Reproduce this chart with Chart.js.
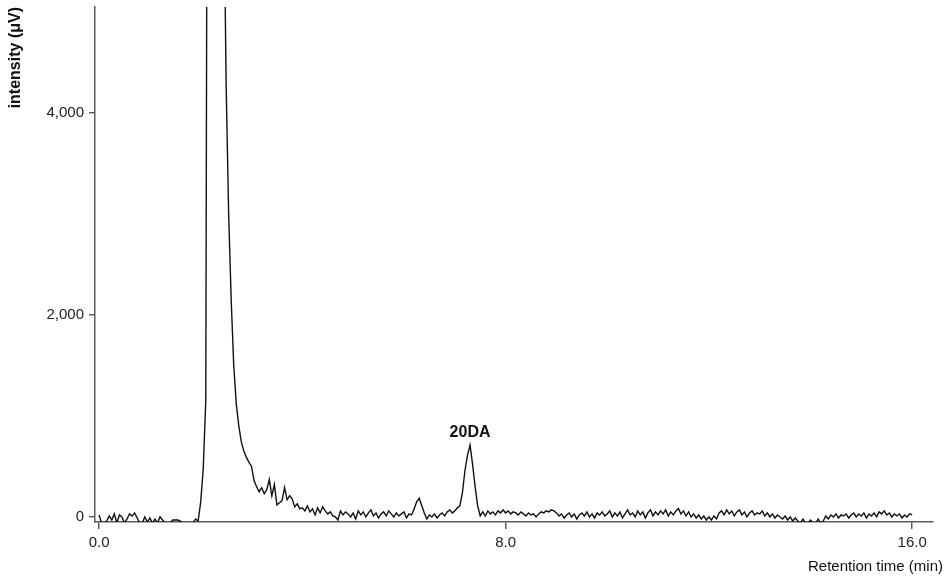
<!DOCTYPE html>
<html>
<head>
<meta charset="utf-8">
<title>Chromatogram</title>
<script src="https://cdn.jsdelivr.net/npm/chart.js@4.4.0/dist/chart.umd.min.js"></script>
<style>
  html, body { margin: 0; padding: 0; background: #fff; }
  canvas { display: block; }
</style>
</head>
<body>
<canvas id="chromatogram" width="947" height="580"></canvas>
<script>
// detector reading every 0.05 min, starting at 0.0 min
const sampleStep = 0.05;

// intensity in µV, one row per minute (20 readings)
const intensity = [
  20, -60, -60, -40, 10, -30, 30, -60, 20, 0, -60, -20, 30, 10, 40, -10, -60, -60, 0, -50,
  -10, -60, -20, -60, 0, -30, -60, -60, -60, -30, -30, -30, -40, -60, -60, -60, -60, -60, -20, -40,
  150, 480, 1150, 12000, 19000, 22000, 20000, 15000, 9500, 6500, 4300, 3000, 2150, 1500, 1120, 900, 740, 650, 590, 540,
  500, 360, 300, 250, 290, 230, 270, 370, 210, 320, 120, 140, 160, 290, 170, 210, 180, 100, 130, 80,
  90, 60, 110, 50, 80, 20, 90, 40, 100, 60, 30, 50, 10, 0, -30, 60, 20, 50, 30, 0,
  40, -20, 60, 20, 50, 0, 40, 70, 10, 40, -10, 30, 50, 10, 60, 30, 0, 40, 10, 30,
  50, -10, 30, 20, 80, 150, 185, 110, 40, -20, 20, 0, 30, -10, 20, 40, 10, 50, 70, 40,
  60, 90, 110, 240, 460, 610, 713, 520, 300, 110, 10, 50, 10, 60, 30, 50, 20, 60, 40, 70,
  40, 60, 30, 50, 40, 20, 50, 30, 10, 40, 20, 30, 0, 30, 50, 40, 60, 50, 70, 60,
  40, 10, 30, -10, 20, 40, 0, 30, -20, 20, 40, 10, 50, 0, 30, -10, 40, 20, 50, 10,
  30, 60, 0, 40, 10, 50, -10, 30, 70, 20, 40, 0, 60, 20, 50, -10, 40, 70, 10, 50,
  20, 60, 30, 70, 10, 50, 20, 60, 85, 30, 60, 10, 50, 0, 30, -10, 20, -20, 10, -30,
  0, -30, 10, -20, 40, 60, 20, 70, 30, 60, 10, 50, 70, 20, 50, 0, 40, 60, 20, 40,
  30, 60, 10, 40, 0, 30, -10, 20, 0, -20, 10, -30, 0, -40, -10, -40, -60, -20, -60, -60,
  -30, -60, -60, -20, -60, -40, 10, -20, 20, 0, 30, -10, 20, 10, 30, -10, 20, 40, 0, 30,
  10, 40, -10, 30, 10, 40, 0, 50, 30, 60, 20, 40, 0, 30, 10, 30, -10, 20, 0, 30,
  20
];

const xTicks = [0, 8, 16];
const yTicks = [0, 2000, 4000];

const peakName = "20DA";
const peakTime = 7.30;

const axisColor = "#5c5c5c";
const fontFamily = "'Liberation Sans', Arial, Helvetica, sans-serif";

var points = intensity.map(function (v, i) {
  return { x: Math.round(i * sampleStep * 100) / 100, y: v };
});

// label over the 20DA peak and the x axis title (right aligned past the axis end)
const textPlugin = {
  id: "chromLabels",
  afterDraw: function (chart) {
    var ctx = chart.ctx;
    var xs = chart.scales.x;
    var ys = chart.scales.y;
    var apex = points.find(function (p) { return Math.abs(p.x - peakTime) < 1e-6; });
    ctx.save();
    ctx.fillStyle = "#111";
    ctx.font = "bold 16px " + fontFamily;
    ctx.textAlign = "center";
    ctx.textBaseline = "alphabetic";
    ctx.fillText(peakName, xs.getPixelForValue(apex.x), ys.getPixelForValue(apex.y) - 8);

    ctx.font = "15px " + fontFamily;
    ctx.textAlign = "right";
    ctx.fillText("Retention time (min)", 943, 571);
    ctx.restore();
  }
};

var ctx = document.getElementById("chromatogram").getContext("2d");

var chart = new Chart(ctx, {
  type: "line",
  data: {
    datasets: [{
      data: points,
      borderColor: "#111",
      borderWidth: 1.4,
      pointRadius: 0,
      tension: 0,
      fill: false
    }]
  },
  options: {
    responsive: false,
    animation: false,
    layout: { padding: { top: 7, right: 14, left: 0, bottom: 0 } },
    plugins: {
      legend: { display: false },
      tooltip: { enabled: false }
    },
    scales: {
      x: {
        type: "linear",
        min: -0.08,
        max: 16.41,
        afterBuildTicks: function (scale) {
          scale.ticks = xTicks.map(function (v) { return { value: v }; });
        },
        afterFit: function (scale) {
          scale.height = 58;
          scale.paddingLeft = 0;
          scale.paddingRight = 0;
        },
        ticks: {
          callback: function (v) { return v.toFixed(1); },
          font: { family: fontFamily, size: 15 },
          color: "#222",
          padding: 5,
          maxRotation: 0,
          autoSkip: false
        },
        grid: {
          drawOnChartArea: false,
          drawTicks: true,
          tickLength: 7,
          color: axisColor,
          lineWidth: 1.5
        },
        border: { display: true, color: axisColor, width: 1.5 }
      },
      y: {
        type: "linear",
        min: -50,
        max: 5050,
        afterBuildTicks: function (scale) {
          scale.ticks = yTicks.map(function (v) { return { value: v }; });
        },
        afterFit: function (scale) {
          scale.width = 95;
          scale.paddingTop = 0;
          scale.paddingBottom = 0;
        },
        ticks: {
          callback: function (v) { return v.toLocaleString("en-US"); },
          font: { family: fontFamily, size: 15 },
          color: "#222",
          padding: 5,
          autoSkip: false
        },
        grid: {
          drawOnChartArea: false,
          drawTicks: true,
          tickLength: 6,
          color: axisColor,
          lineWidth: 1.5
        },
        border: { display: true, color: axisColor, width: 1.5 },
        title: {
          display: true,
          text: "intensity (μV)",
          align: "end",
          color: "#111",
          font: { family: fontFamily, size: 16, weight: "bold" },
          padding: { top: 6, bottom: 0 }
        }
      }
    }
  },
  plugins: [textPlugin]
});
</script>
</body>
</html>
